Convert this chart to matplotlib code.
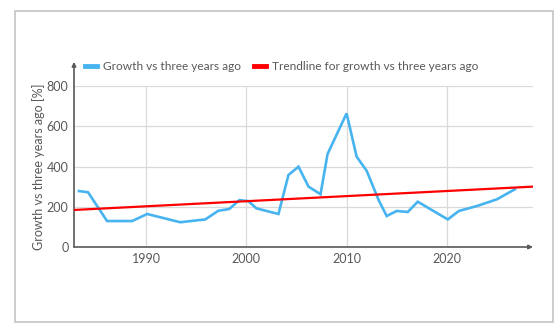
import matplotlib.pyplot as plt
from matplotlib.patches import Rectangle

# Growth vs three years ago, in percent
years = [1983.3, 1984.2, 1986.1, 1988.6, 1990.1, 1993.4, 1995.9, 1997.2, 1998.3,
         1999.3, 2000.2, 2001.0, 2003.2, 2004.2, 2005.2, 2006.2, 2007.4, 2008.1,
         2010.0, 2011.0, 2012.0, 2013.2, 2014.0, 2015.0, 2016.1, 2017.1, 2020.1,
         2021.2, 2023.1, 2025.0, 2026.8]
growth = [278, 272, 129, 129, 164, 123, 137, 180, 189,
          233, 228, 192, 164, 358, 399, 300, 262, 462,
          664, 449, 379, 233, 154, 179, 174, 225, 137,
          179, 205, 237, 287]

# Linear trendline end points
trend_years = [1982.8, 2028.6]
trend_values = [184, 300]

x_ticks = [1990, 2000, 2010, 2020]
y_ticks = [0, 200, 400, 600, 800]

plt.rcParams['font.family'] = ['Lato', 'DejaVu Sans']
grey = '#595959'

fig = plt.figure(figsize=(5.6, 3.27), dpi=100)
fig.patches.append(Rectangle((15 / 560, 1 - 322 / 327), 538 / 560, 311 / 327,
                             transform=fig.transFigure, fill=False,
                             edgecolor='#c8c8c8', linewidth=1.3))

ax = fig.add_axes([74 / 560, 1 - 247 / 327, 459 / 560, 161 / 327])
ax.plot(years, growth, color='#47b4f0', linewidth=1.9, label='Growth vs three years ago',
        solid_joinstyle='miter', zorder=3)
ax.plot(trend_years, trend_values, color='#ff0000', linewidth=1.6,
        label='Trendline for growth vs three years ago', zorder=4)

ax.set_xlim(trend_years[0], trend_years[1])
ax.set_ylim(0, 800)
ax.set_xticks(x_ticks)
ax.set_yticks(y_ticks)
ax.grid(True, color='#d9d9d9', linewidth=0.9)
ax.set_axisbelow(True)
for side in ['top', 'right', 'left', 'bottom']:
    ax.spines[side].set_visible(False)
ax.tick_params(length=0, labelsize=9, colors=grey, pad=4)

# axis lines with arrow heads
ax.annotate('', xy=(0, 1.15), xytext=(0, 0), xycoords='axes fraction',
            arrowprops=dict(arrowstyle='-|>', color=grey, lw=1.2,
                            mutation_scale=6, shrinkA=0, shrinkB=0), annotation_clip=False)
ax.annotate('', xy=(1.0, 0), xytext=(0, 0), xycoords='axes fraction',
            arrowprops=dict(arrowstyle='-|>', color=grey, lw=1.2,
                            mutation_scale=6, shrinkA=0, shrinkB=0), annotation_clip=False)

ax.set_ylabel('Growth vs three years ago [%]', fontsize=9, color=grey, labelpad=1)

leg = ax.legend(loc='lower left', bbox_to_anchor=(9 / 459, 1.07), ncol=2, frameon=False,
                fontsize=8.6, handlelength=1.0, handletextpad=0.5, columnspacing=1.1,
                borderaxespad=0, borderpad=0.2)
for t in leg.get_texts():
    t.set_color(grey)
for h in leg.legend_handles:
    h.set_linewidth(3.5)

fig.savefig('out.png', dpi=100, facecolor='white')
